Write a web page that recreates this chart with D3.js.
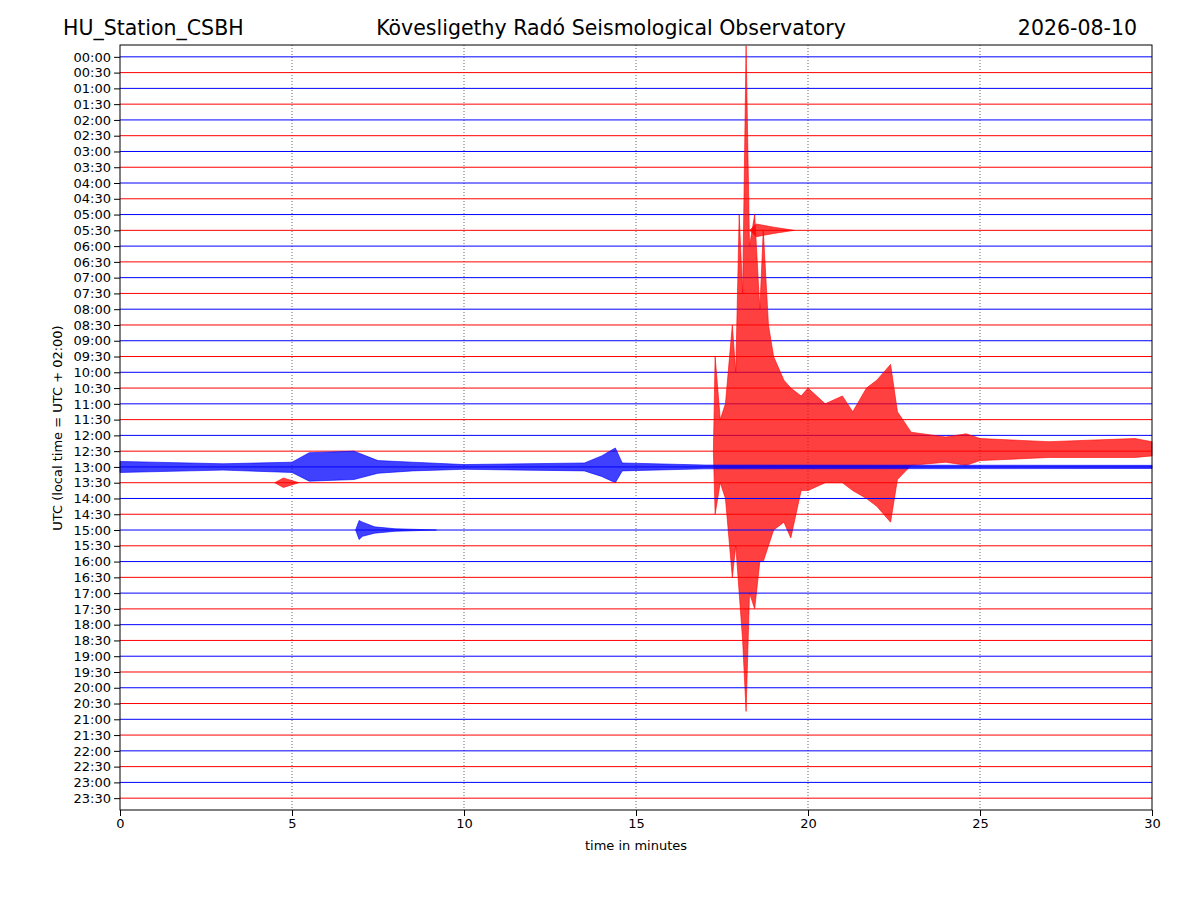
<!DOCTYPE html>
<html><head><meta charset="utf-8">
<script src="https://cdn.jsdelivr.net/npm/d3@7"></script>
<style>body{margin:0;background:#fff}text{font-family:"DejaVu Sans",sans-serif}</style>
</head><body><svg id="chart" width="1200" height="900"></svg>
<script>
// trace labels, one per half hour
const traceLabels = d3.range(48).map(i => String(Math.floor(i / 2)).padStart(2, '0') + (i % 2 ? ':30' : ':00'));
const xTicks = [0, 5, 10, 15, 20, 25, 30];
// events: trace index, then [minute, up, down] envelope points in trace units
const bigQuake = {trace: 25, pts: [
  [17.25, 0, 0], [17.3, 6, 4], [17.45, 2, 2], [17.6, 3, 3], [17.8, 8, 8], [17.9, 5, 6],
  [18.0, 15, 9], [18.1, 10, 12], [18.2, 25.7, 16.5], [18.3, 13, 9], [18.45, 15, 10],
  [18.6, 9, 7], [18.7, 14, 7], [18.85, 8, 6], [19.0, 6, 5], [19.3, 4.5, 4.5], [19.5, 4, 5.5],
  [19.8, 3.5, 2.5], [20.0, 4, 2.5], [20.5, 3, 2], [21.0, 3.5, 2], [21.3, 2.5, 2.5],
  [21.7, 4, 3], [22.0, 4.5, 3.5], [22.4, 5.5, 4.5], [22.6, 2.5, 1.8], [23.0, 1.2, 0.9],
  [24.0, 0.9, 0.7], [24.6, 1.1, 0.9], [25.0, 0.8, 0.6], [27.0, 0.6, 0.4], [29.5, 0.8, 0.4], [30, 0.6, 0.3]]};
const noon = {trace: 26, pts: [
  [0, 0.35, 0.35], [3, 0.2, 0.2], [5, 0.3, 0.35], [5.5, 0.9, 0.9], [6.8, 1.0, 0.8], [7.5, 0.4, 0.4],
  [8.5, 0.3, 0.25], [10, 0.15, 0.15], [13.5, 0.25, 0.25], [14, 0.7, 0.6], [14.4, 1.2, 1.0],
  [14.6, 0.25, 0.25], [17, 0.12, 0.12], [30, 0.1, 0.1]]};
const afternoon = {trace: 30, pts: [
  [6.85, 0, 0], [6.95, 0.6, 0.6], [7.05, 0.5, 0.4], [7.4, 0.2, 0.2], [8, 0.08, 0.08], [9.2, 0, 0]]};
const coda = {trace: 11, pts: [
  [18.3, 0, 0], [18.5, 0.4, 0.4], [19.0, 0.2, 0.2], [19.6, 0, 0]]};
const smallBursts = {trace: 27, pts: [[4.5, 0, 0], [4.75, 0.3, 0.3], [5.2, 0, 0]]};
const events = [coda, bigQuake, noon, smallBursts, afternoon];

const svg = d3.select('#chart');
const margin = {left: 120, right: 1152, top: 45, bottom: 810};
const x = d3.scaleLinear().domain([0, 30]).range([margin.left, margin.right]);
const y = d3.scaleLinear().domain([-0.75, 47.75]).range([margin.top, margin.bottom]);
const unit = y(1) - y(0);
const colorOf = i => i % 2 ? 'red' : 'blue';

svg.append('g').selectAll('line').data(xTicks.slice(1, -1)).enter().append('line')
  .attr('x1', d => x(d)).attr('x2', d => x(d)).attr('y1', margin.top).attr('y2', margin.bottom)
  .attr('stroke', '#000').attr('stroke-width', 0.6).attr('stroke-dasharray', '1,2');

const area = d3.area().x(d => x(d[0]))
  .y0(d => -d[1] * unit).y1(d => d[2] * unit);

traceLabels.forEach((lab, i) => {
  const g = svg.append('g').attr('transform', `translate(0,${y(i)})`);
  g.append('line').attr('x1', x(0)).attr('x2', x(30)).attr('stroke', colorOf(i)).attr('stroke-width', 1);
  events.filter(e => e.trace === i).forEach(e => {
    g.append('path').attr('d', area(e.pts)).attr('fill', colorOf(i)).attr('fill-opacity', 0.75)
      .attr('stroke', colorOf(i)).attr('stroke-width', 0.6);
  });
});

svg.append('rect').attr('x', margin.left).attr('y', margin.top)
  .attr('width', margin.right - margin.left).attr('height', margin.bottom - margin.top)
  .attr('fill', 'none').attr('stroke', '#000');

svg.append('g').attr('transform', `translate(0,${margin.bottom})`)
  .call(d3.axisBottom(x).tickValues(xTicks).tickSizeOuter(0))
  .call(g => g.select('.domain').remove())
  .selectAll('text').attr('font-size', 13).attr('fill', '#000');

svg.append('g').attr('transform', `translate(${margin.left},0)`)
  .call(d3.axisLeft(y).tickValues(d3.range(48)).tickFormat(i => traceLabels[i]).tickSizeOuter(0))
  .call(g => g.select('.domain').remove())
  .selectAll('text').attr('font-size', 13).attr('fill', '#000');

svg.append('text').attr('x', 636).attr('y', 850).attr('text-anchor', 'middle').attr('font-size', 13).text('time in minutes');
svg.append('text').attr('transform', 'translate(62,428) rotate(-90)').attr('text-anchor', 'middle')
  .attr('font-size', 13).text('UTC (local time = UTC + 02:00)');
svg.append('text').attr('x', 63).attr('y', 35).attr('font-size', 20.5).text('HU_Station_CSBH');
svg.append('text').attr('x', 611).attr('y', 35).attr('text-anchor', 'middle').attr('font-size', 20.5).text('Kövesligethy Radó Seismological Observatory');
svg.append('text').attr('x', 1137).attr('y', 35).attr('text-anchor', 'end').attr('font-size', 20.5).text('2026-08-10');
</script></body></html>
